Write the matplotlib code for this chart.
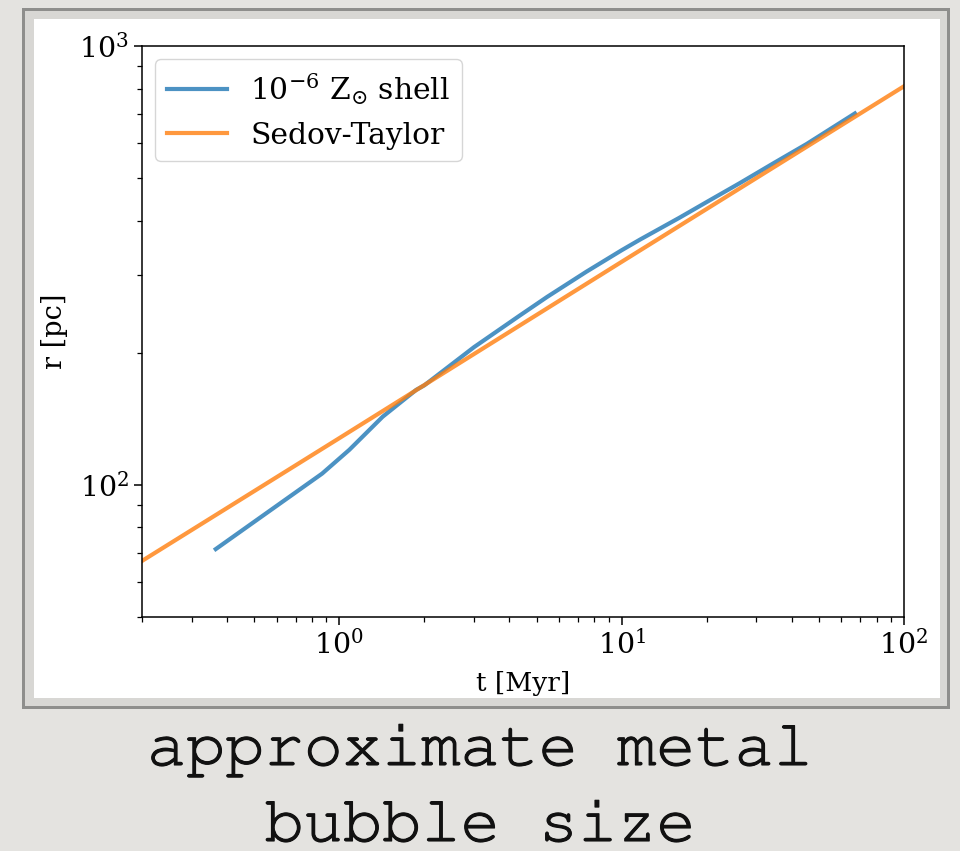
import matplotlib
matplotlib.use("Agg")
import matplotlib.pyplot as plt
import matplotlib.patheffects as pe
from matplotlib.patches import Rectangle

# shell radius from the simulation (Myr, pc)
t_shell = [0.365, 0.869, 1.085, 1.424, 1.871, 2.0, 3.0, 4.35, 5.44, 7.5, 10.0,
           11.6, 16.0, 20.0, 26.2, 34.4, 45.2, 67.0]
r_shell = [71.4, 106.1, 120.2, 143.0, 164.6, 168.6, 206.0, 243.0, 268.0, 306.0, 342.5,
           362.0, 406.0, 441.0, 487.0, 540.0, 598.0, 702.0]

# Sedov-Taylor solution, r ~ t^(2/5)
t_st = [0.2, 1.0, 10.0, 100.0]
r_st = [67.1, 127.8, 322.3, 809.6]

W, H = 960, 851

plt.rcParams['font.family'] = 'DejaVu Serif'
plt.rcParams['mathtext.fontset'] = 'dejavuserif'

fig = plt.figure(figsize=(W / 100, H / 100), dpi=100, facecolor='#e4e3e0')

def px_rect(x0, y0, x1, y1, **kw):
    # rectangle given in pixels from the top-left corner, kept behind the axes
    return Rectangle((x0 / W, 1 - y1 / H), (x1 - x0) / W, (y1 - y0) / H,
                     transform=fig.transFigure, figure=fig, zorder=-10, **kw)

# picture frame round the plot
fig.patches.append(px_rect(22, 8, 950, 709, facecolor='#8e8e8c', edgecolor='none'))
fig.patches.append(px_rect(25, 11, 947, 706, facecolor='#d8d7d4', edgecolor='none'))
fig.patches.append(px_rect(34, 19, 940, 698, facecolor='white', edgecolor='none'))

ax = fig.add_axes([142 / W, 1 - 617 / H, (904 - 142) / W, (617 - 46) / H])
ax.set_zorder(5)

ax.plot(t_shell, r_shell, color='#1f77b4', alpha=0.8, lw=3, label=r'$10^{-6}$ Z$_{\odot}$ shell')
ax.plot(t_st, r_st, color='#ff7f0e', alpha=0.8, lw=3, label='Sedov-Taylor')

ax.set_xscale('log')
ax.set_yscale('log')
ax.set_xlim(0.2, 100)
ax.set_ylim(50, 1000)
ax.set_xlabel('t [Myr]', fontsize=19, labelpad=8)
ax.set_ylabel('r [pc]', fontsize=19.5, labelpad=8)
ax.tick_params(which='major', labelsize=20.5, length=6, width=1.1)
ax.tick_params(which='minor', length=3.5, width=0.9)
for s in ax.spines.values():
    s.set_linewidth(1.1)

ax.legend(loc='upper left', fontsize=21.4, handlelength=2.0, borderaxespad=0.45)

mono = ['Courier New', 'Nimbus Mono PS', 'FreeMono', 'Liberation Mono']
thick = [pe.withStroke(linewidth=0.8, foreground='#111111')]
fig.text(0.5, 1 - 765 / H, 'approximate metal', ha='center', va='baseline',
         family=mono, fontsize=47, color='#111111', path_effects=thick)
fig.text(0.5, 1 - 841 / H, 'bubble size', ha='center', va='baseline',
         family=mono, fontsize=47, color='#111111', path_effects=thick)

fig.savefig('out.png', dpi=100, facecolor=fig.get_facecolor())
